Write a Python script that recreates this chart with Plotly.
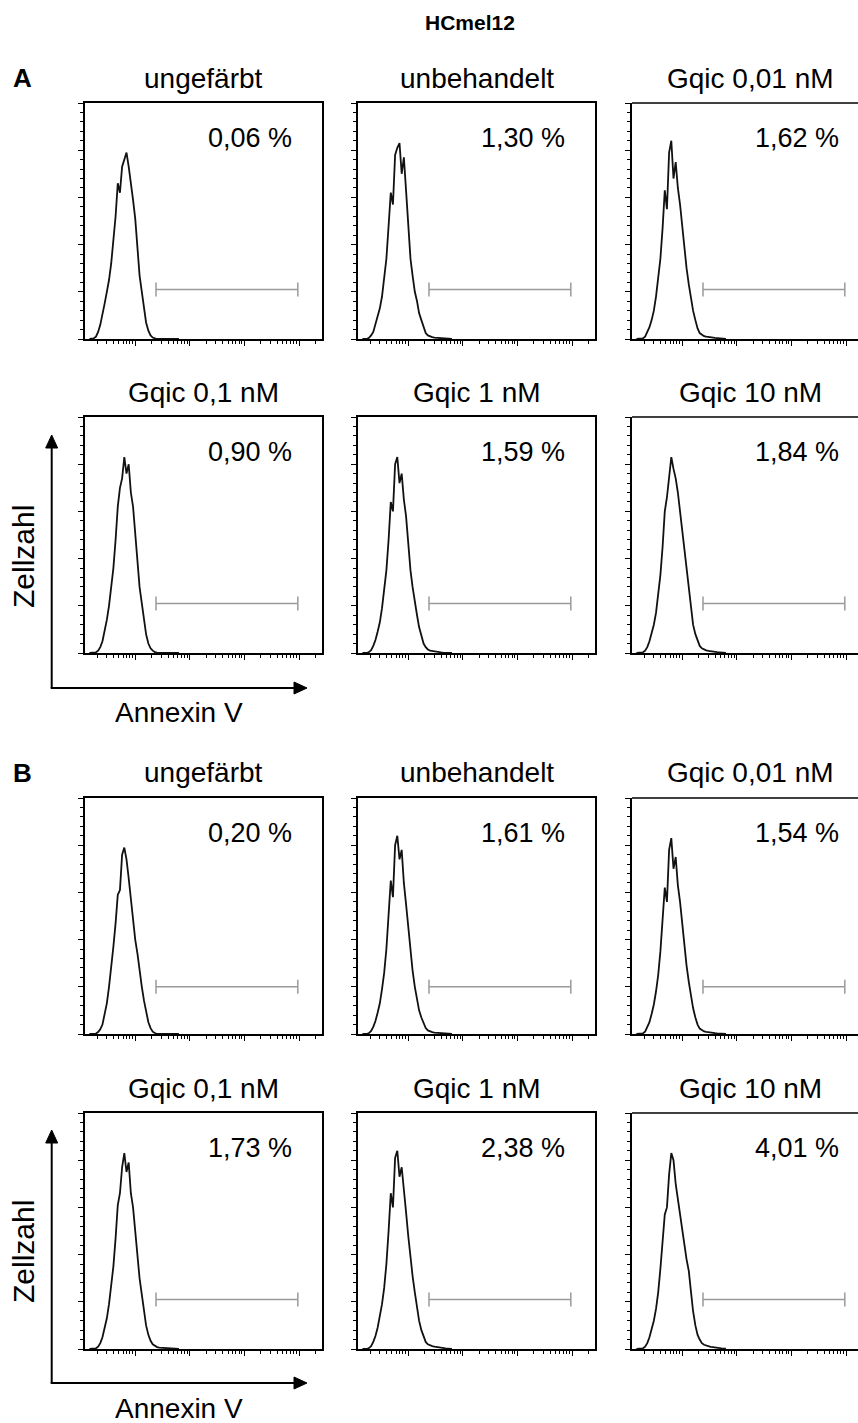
import plotly.graph_objects as go

# ---------------- data ----------------
# bin centres of the Annexin V intensity (log scale)
intensity = [1.45, 1.58, 1.74, 1.91, 2.09, 2.29, 2.51, 2.75, 3.02, 3.31, 3.63, 3.98, 4.37, 4.79,
             5.25, 5.75, 6.31, 6.92, 7.59, 8.32, 9.12, 10.0, 11.0, 12.0, 13.2, 14.5, 15.8, 17.4,
             19.1, 20.9, 22.9, 25.1, 27.5, 30.2, 33.1, 36.3, 39.8, 43.7, 47.9, 52.5, 57.5, 63.1]

panel_titles = ["ungefärbt", "unbehandelt", "Gqic 0,01 nM", "Gqic 0,1 nM", "Gqic 1 nM", "Gqic 10 nM"]
percent_A = ["0,06 %", "1,30 %", "1,62 %", "0,90 %", "1,59 %", "1,84 %"]
percent_B = ["0,20 %", "1,61 %", "1,54 %", "1,73 %", "2,38 %", "4,01 %"]

counts_A1 = [0, 0, 0.3, 1, 3, 6, 10, 15, 20, 25, 32, 41, 52, 66, 62, 73, 76, 79, 73, 67, 59, 51, 38, 27,
             20, 13, 7, 3.5, 1.5, 0.6, 0.2, 0, 0, 0, 0, 0, 0, 0, 0, 0, 0, 0]
counts_A2 = [0, 0, 0, 0.5, 1.5, 3, 6, 9, 13, 18, 25, 34, 48, 62, 57, 78, 81, 83, 70, 77, 63, 48, 34, 27,
             20, 16, 11, 8, 5, 2.5, 1.5, 1, 0.8, 0.6, 0.5, 0.4, 0.3, 0.3, 0.2, 0.1, 0, 0]
counts_A3 = [0, 0, 0, 0.3, 1, 3, 5, 8, 12, 18, 25, 34, 47, 63, 55, 79, 84, 68, 75, 64, 57, 47, 37, 30,
             23, 17, 12, 8, 4.5, 2.5, 1.8, 1.2, 1, 0.8, 0.7, 0.6, 0.5, 0.4, 0.3, 0.2, 0.1, 0]
counts_A4 = [0, 0, 0, 0.3, 1, 2.5, 5, 9, 14, 20, 27, 36, 48, 62, 70, 74, 83, 76, 80, 68, 62, 50, 37, 28,
             21, 14, 8, 4, 2, 1, 0.4, 0.2, 0.1, 0, 0, 0, 0, 0, 0, 0, 0, 0]
counts_A5 = [0, 0, 0, 0.4, 1.2, 3, 5.5, 9, 13, 19, 26, 35, 48, 64, 60, 80, 83, 72, 76, 65, 58, 46, 35, 28,
             21, 16, 11, 7, 4, 2.5, 1.5, 1, 0.8, 0.6, 0.5, 0.4, 0.3, 0.2, 0.1, 0, 0, 0]
counts_A6 = [0, 0, 0, 0.3, 1, 2.5, 5, 8, 12, 17, 24, 33, 45, 60, 66, 76, 83, 78, 74, 68, 60, 50, 42, 35,
             26, 18, 12, 8, 5, 3, 2, 1.4, 1.1, 0.9, 0.7, 0.6, 0.5, 0.4, 0.3, 0.2, 0.1, 0]
counts_B1 = [0, 0, 0, 0.2, 0.8, 2, 4, 8, 13, 20, 28, 37, 47, 59, 61, 76, 79, 74, 66, 57, 48, 40, 34, 26,
             20, 14, 9, 5, 2.5, 1, 0.4, 0, 0, 0, 0, 0, 0, 0, 0, 0, 0, 0]
counts_B2 = [0, 0, 0, 0.4, 1.3, 3, 5.5, 9, 13, 19, 26, 36, 50, 65, 58, 80, 84, 74, 78, 64, 55, 45, 34, 27,
             20, 15, 10, 7, 4.5, 2.5, 1.5, 1, 0.8, 0.6, 0.5, 0.4, 0.3, 0.2, 0.1, 0, 0, 0]
counts_B3 = [0, 0, 0, 0.3, 1, 2.8, 5, 8.5, 12.5, 18, 25, 35, 48, 62, 56, 78, 83, 70, 75, 63, 56, 46, 36, 29,
             22, 16, 11, 7, 4, 2.3, 1.5, 1.1, 0.9, 0.7, 0.6, 0.5, 0.4, 0.3, 0.2, 0.1, 0, 0]
counts_B4 = [0, 0, 0, 0.3, 1, 2.5, 5, 8.5, 13, 19, 26, 35, 47, 61, 66, 77, 83, 75, 79, 66, 60, 49, 38, 30,
             23, 16, 10, 6, 3.5, 2, 1.2, 0.8, 0.6, 0.5, 0.4, 0.3, 0.2, 0.1, 0, 0, 0, 0]
counts_B5 = [0, 0, 0, 0.4, 1.2, 3, 5.5, 9, 13.5, 19, 26, 36, 50, 66, 60, 81, 84, 73, 77, 66, 58, 48, 38, 31,
             24, 18, 12, 8, 5, 3, 2, 1.5, 1.2, 1, 0.8, 0.6, 0.5, 0.4, 0.3, 0.2, 0.1, 0]
counts_B6 = [0, 0, 0, 0.3, 1, 2.5, 5, 8, 12, 17, 24, 34, 46, 57, 60, 74, 83, 80, 70, 63, 58, 50, 44, 38,
             33, 24, 16, 10, 6, 4, 2.5, 1.8, 1.4, 1.1, 0.9, 0.8, 0.6, 0.5, 0.4, 0.3, 0.2, 0.1]

# marker gate (Annexin V positive region)
gate_low = 24
gate_high = 9500
gate_level_A = [21, 21, 21, 21, 21, 21]
gate_level_B = [20, 20, 20, 21, 21, 21]

counts_all = [counts_A1, counts_A2, counts_A3, counts_A4, counts_A5, counts_A6,
              counts_B1, counts_B2, counts_B3, counts_B4, counts_B5, counts_B6]
percents_all = percent_A + percent_B
gates_all = gate_level_A + gate_level_B

# ---------------- layout geometry (pixels) ----------------
W, H = 858, 1423
col_left = [85, 358, 632]
panel_w = 237
row_top = [103, 417, 798, 1113]
panel_h = 236
decade_px = 54.6
x_lo = 0.08

FONT = "Liberation Sans, Arial, sans-serif"


def px(x):
    return x / W


def py(y):
    return 1 - y / H


fig = go.Figure()
layout = dict(
    width=W, height=H, margin=dict(l=0, r=0, t=0, b=0),
    paper_bgcolor="white", plot_bgcolor="rgba(0,0,0,0)", showlegend=False,
    font=dict(family=FONT, color="black"),
)

minor_vals = [m * 10 ** k for k in range(0, 5) for m in range(2, 10)]
annotations = []
shapes = []

for i in range(12):
    r, c = divmod(i, 3)
    n = i + 1
    xa = "x" if n == 1 else f"x{n}"
    ya = "y" if n == 1 else f"y{n}"
    left = col_left[c]
    right = min(left + panel_w, W)
    top = row_top[r]
    bottom = top + panel_h
    x_hi = x_lo + (right - left) / decade_px
    last_col = (c == 2)

    fig.add_trace(go.Scatter(
        x=intensity, y=counts_all[i], mode="lines",
        line=dict(color="#111111", width=1.8), xaxis=xa, yaxis=ya, hoverinfo="skip"))
    fig.add_trace(go.Scatter(
        x=[gate_low, gate_high], y=[gates_all[i], gates_all[i]], mode="lines+markers",
        line=dict(color="#9a9a9a", width=1.5),
        marker=dict(symbol="line-ns", size=10, line=dict(color="#9a9a9a", width=1.5)),
        xaxis=xa, yaxis=ya, hoverinfo="skip"))

    layout["xaxis" if n == 1 else f"xaxis{n}"] = dict(
        domain=[px(left), px(right)], anchor=ya, type="log", range=[x_lo, x_hi],
        showline=True, linecolor="black", linewidth=1.6, mirror=not last_col,
        ticks="outside", tickvals=[10, 100, 1000, 10000], ticklen=5, tickwidth=1, tickcolor="black",
        minor=dict(tickvals=minor_vals, ticks="outside", ticklen=3, tickwidth=1, tickcolor="black"),
        showticklabels=False, showgrid=False, zeroline=False, fixedrange=True)
    layout["yaxis" if n == 1 else f"yaxis{n}"] = dict(
        domain=[py(bottom), py(top)], anchor=xa, range=[0, 100],
        showline=True, linecolor="black", linewidth=1.6, mirror=not last_col,
        ticks="outside", dtick=20, tick0=0, ticklen=5, tickwidth=1, tickcolor="black",
        minor=dict(dtick=4, ticks="outside", ticklen=3, tickwidth=1, tickcolor="black"),
        showticklabels=False, showgrid=False, zeroline=False, fixedrange=True)

    if last_col:
        # open-right frame: only the top edge is added, the panel runs off the page
        shapes.append(dict(type="line", xref="paper", yref="paper", x0=px(left), y0=py(top),
                           x1=1.0, y1=py(top), line=dict(color="black", width=1.6)))

    # panel title
    annotations.append(dict(text=panel_titles[i % 6], x=px(left + panel_w / 2), y=py(top - 25),
                            xref="paper", yref="paper", showarrow=False, xanchor="center",
                            yanchor="middle", font=dict(size=28, family=FONT)))
    # percentage
    annotations.append(dict(text=percents_all[i], x=px(left + panel_w - 28), y=py(top + 35),
                            xref="paper", yref="paper", showarrow=False, xanchor="right",
                            yanchor="middle", font=dict(size=27, family=FONT)))

# overall title and section letters
annotations.append(dict(text="<b>HCmel12</b>", x=px(470), y=py(22), xref="paper", yref="paper",
                        showarrow=False, xanchor="center", yanchor="middle", font=dict(size=21)))
for letter, yy in [("A", 78), ("B", 773)]:
    annotations.append(dict(text=f"<b>{letter}</b>", x=px(22), y=py(yy), xref="paper", yref="paper",
                            showarrow=False, xanchor="center", yanchor="middle", font=dict(size=26)))

# axis-meaning arrows for each section
for off in [0, 695]:
    corner_x, corner_y = 51.7, 688 + off
    tip_y = 435 + off
    tip_x = 307
    shapes.append(dict(type="line", xref="paper", yref="paper", x0=px(corner_x), y0=py(corner_y),
                       x1=px(corner_x), y1=py(tip_y + 12), line=dict(color="black", width=2)))
    shapes.append(dict(type="line", xref="paper", yref="paper", x0=px(corner_x - 1), y0=py(corner_y),
                       x1=px(tip_x - 12), y1=py(corner_y), line=dict(color="black", width=2)))
    shapes.append(dict(type="path", xref="paper", yref="paper", fillcolor="black",
                       line=dict(color="black", width=1),
                       path=f"M {px(corner_x)} {py(tip_y)} L {px(corner_x - 6)} {py(tip_y + 13)} "
                            f"L {px(corner_x + 6)} {py(tip_y + 13)} Z"))
    shapes.append(dict(type="path", xref="paper", yref="paper", fillcolor="black",
                       line=dict(color="black", width=1),
                       path=f"M {px(tip_x)} {py(corner_y)} L {px(tip_x - 13)} {py(corner_y - 6)} "
                            f"L {px(tip_x - 13)} {py(corner_y + 6)} Z"))
    annotations.append(dict(text="Zellzahl", x=px(23), y=py(557 + off), xref="paper", yref="paper",
                            showarrow=False, textangle=-90, xanchor="center", yanchor="middle",
                            font=dict(size=30)))
    annotations.append(dict(text="Annexin V", x=px(179), y=py(713 + off), xref="paper", yref="paper",
                            showarrow=False, xanchor="center", yanchor="middle", font=dict(size=28)))

layout["annotations"] = annotations
layout["shapes"] = shapes
fig.update_layout(**layout)
fig.write_html("out.html", config={"displayModeBar": False},
               post_script="document.body.style.margin='0px';document.body.style.padding='0px';")
